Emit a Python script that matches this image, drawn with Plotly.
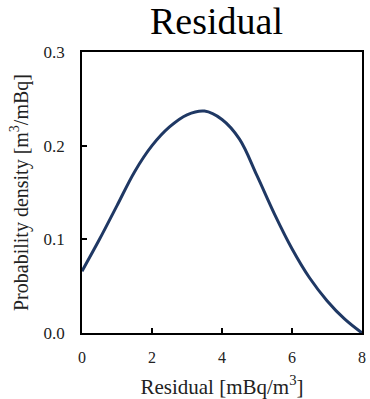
import plotly.graph_objects as go

residual = [0, 0.5, 1, 1.5, 2, 2.5, 3, 3.5, 4, 4.5, 5, 5.5, 6, 6.5, 7, 7.5, 8]
density = [0.066, 0.100, 0.136, 0.172, 0.200, 0.220, 0.233, 0.237, 0.228, 0.207,
           0.168, 0.127, 0.090, 0.059, 0.0345, 0.015, 0.0]
x_ticks = [0, 2, 4, 6, 8]
y_ticks = [0.0, 0.1, 0.2, 0.3]
y_ticklabels = ["0.0", "0.1", "0.2", "0.3"]

font = "Liberation Serif"

fig = go.Figure()
fig.add_trace(go.Scatter(x=residual, y=density, mode="lines",
                         line=dict(color="#1f3864", width=3, shape="spline", smoothing=1.0),
                         showlegend=False, cliponaxis=False))

fig.update_layout(
    width=370, height=399,
    margin=dict(l=82, r=4, t=52, b=66),
    paper_bgcolor="white", plot_bgcolor="white",
    font=dict(family=font, color="#222222", size=16),
    title=dict(text="Residual", x=0.585, xanchor="center", y=0.982, yanchor="top",
               font=dict(family=font, size=38, color="black")),
)
fig.update_xaxes(range=[0, 8], tickvals=x_ticks, ticks="inside", ticklen=5, tickwidth=1.5,
                 tickcolor="black", showline=True, linecolor="black", linewidth=1.5,
                 mirror=True, showgrid=False, zeroline=False, ticklabelstandoff=9,
                 title=dict(text="Residual [mBq/m<sup>3</sup>]",
                            font=dict(family=font, size=21, color="#222222"), standoff=14),
                 tickfont=dict(family=font, size=16, color="#222222"))
fig.update_yaxes(range=[0, 0.3], tickvals=y_ticks, ticktext=y_ticklabels, ticks="inside",
                 ticklen=5, tickwidth=1.5, tickcolor="black", showline=True, linecolor="black",
                 linewidth=1.5, mirror=True, showgrid=False, zeroline=False, ticklabelstandoff=12,
                 title=dict(text="Probability density [m<sup>3</sup>/mBq]",
                            font=dict(family=font, size=20, color="#222222"), standoff=10),
                 tickfont=dict(family=font, size=17, color="#222222"))

fig.write_html("out.html")
